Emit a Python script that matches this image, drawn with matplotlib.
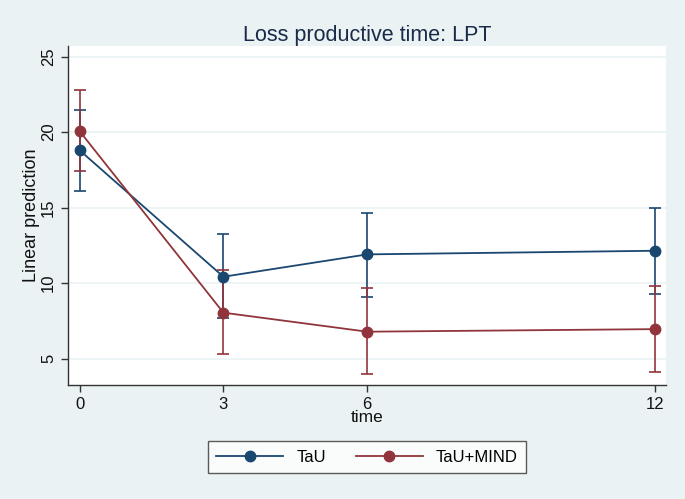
import matplotlib.pyplot as plt
from matplotlib.lines import Line2D

# DATA
time_points = [0, 3, 6, 12]
tau_mean = [18.8, 10.42, 11.9, 12.14]
tau_lower = [16.1, 7.66, 9.05, 9.27]
tau_upper = [21.45, 13.23, 14.66, 14.97]
mind_mean = [20.07, 8.04, 6.78, 6.95]
mind_lower = [17.44, 5.28, 3.95, 4.13]
mind_upper = [22.76, 10.86, 9.65, 9.82]
series_names = ['TaU', 'TaU+MIND']
y_ticks = [5, 10, 15, 20, 25]

# STYLE
bg = '#eaf2f3'
navy = '#1a476f'
maroon = '#90353b'
plt.rcParams['font.family'] = ['Liberation Sans', 'DejaVu Sans']

fig = plt.figure(figsize=(6.85, 4.99), dpi=100, facecolor=bg)
ax = fig.add_axes([68/685, 1-385/499, (666-68)/685, (385-46)/499])
ax.set_facecolor('white')

# Gridlines first so the lines sit on top
for t in y_ticks:
    ax.axhline(t, color=bg, lw=1.2, zorder=0)

series = [(tau_mean, tau_lower, tau_upper, navy), (mind_mean, mind_lower, mind_upper, maroon)]
handles = []
for (mean, lo, hi, col), name in zip(series, series_names):
    yerr = [[m - l for m, l in zip(mean, lo)], [h - m for m, h in zip(mean, hi)]]
    ax.errorbar(time_points, mean, yerr=yerr, color=col, ecolor=col, elinewidth=1.2,
                capsize=4, capthick=1.2, lw=1.3, marker='o', markersize=7.5, zorder=3)
    handles.append(Line2D([], [], color=col, lw=1.3, marker='o', markersize=7.5, label=name))

ax.set_xlim(-0.24, 12.23)
ax.set_ylim(3.25, 25.7)
ax.set_xticks(time_points)
ax.set_yticks(y_ticks)
ax.tick_params(axis='both', direction='out', length=5, width=1, color='#333333',
               labelsize=12, labelcolor='#111111')
for lbl in ax.get_yticklabels():
    lbl.set_rotation(90)
    lbl.set_va('center')

for side in ['top', 'right']:
    ax.spines[side].set_visible(False)
for side in ['left', 'bottom']:
    ax.spines[side].set_color('#333333')
    ax.spines[side].set_linewidth(1)

ax.set_xlabel('time', fontsize=12.5, labelpad=-1, color='#111111')
ax.set_ylabel('Linear prediction', fontsize=13, labelpad=1, color='#111111')
ax.set_title('Loss productive time: LPT', fontsize=15.5, color='#1a2a48', pad=3)

leg = fig.legend(handles=handles, loc='center', bbox_to_anchor=(367/685, 1-457/499), ncol=2,
                 frameon=True, fancybox=False, fontsize=12, handlelength=4.0,
                 columnspacing=1.8, borderpad=0.5, edgecolor='#333333')
leg.get_frame().set_linewidth(1)

fig.savefig('out.png', dpi=100, facecolor=bg)
